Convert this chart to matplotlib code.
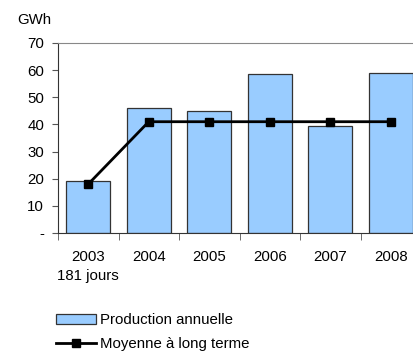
import numpy as np
import matplotlib.pyplot as plt

plt.rcParams['font.family'] = ['Liberation Sans', 'DejaVu Sans']

years = ['2003\n181 jours', '2004', '2005', '2006', '2007', '2008']
production = [19.2, 46.0, 45.0, 58.7, 39.3, 59.1]
moyenne = [18.0, 41.0, 41.0, 41.0, 41.0, 41.0]
yticks = [0, 10, 20, 30, 40, 50, 60, 70]
ytick_labels = ['-', '10', '20', '30', '40', '50', '60', '70']

fig = plt.figure(figsize=(4.14, 3.51), dpi=100)
ax = fig.add_axes([58 / 414, 1 - 233 / 351, 363 / 414, 190 / 351])

x = np.arange(len(years))
bars = ax.bar(x, production, width=0.73, color='#99CCFF', edgecolor='#333333',
              linewidth=0.9, label='Production annuelle', zorder=2)
line, = ax.plot(x, moyenne, color='black', lw=2, marker='s', markersize=6,
                label='Moyenne à long terme', zorder=3)

ax.set_xlim(-0.5, len(years) - 0.5)
ax.set_ylim(0, 70)
ax.set_yticks(yticks)
ax.set_yticklabels(ytick_labels, fontsize=10.8)
ax.set_xticks(x)
ax.set_xticklabels(years, fontsize=10.8, linespacing=1.45)
ax.tick_params(axis='x', length=0, pad=12)
ax.set_xticks(np.arange(len(years) + 1) - 0.5, minor=True)
ax.tick_params(axis='x', which='minor', length=5, color='#555555')
ax.tick_params(axis='y', length=4, color='#555555', pad=6)

ax.spines['right'].set_visible(False)
ax.spines['top'].set_color('#888888')
ax.spines['left'].set_color('#333333')
ax.spines['bottom'].set_color('#333333')

fig.text(17 / 414, 1 - 20 / 351, 'GWh', fontsize=10.8, va='center')

fig.legend(handles=[bars, line], loc='upper left', bbox_to_anchor=(42 / 414, 1 - 300 / 351),
           frameon=False, fontsize=10.8, handlelength=2.7, handleheight=0.6,
           handletextpad=0.25, labelspacing=0.65)

fig.savefig('out.png', dpi=100)
